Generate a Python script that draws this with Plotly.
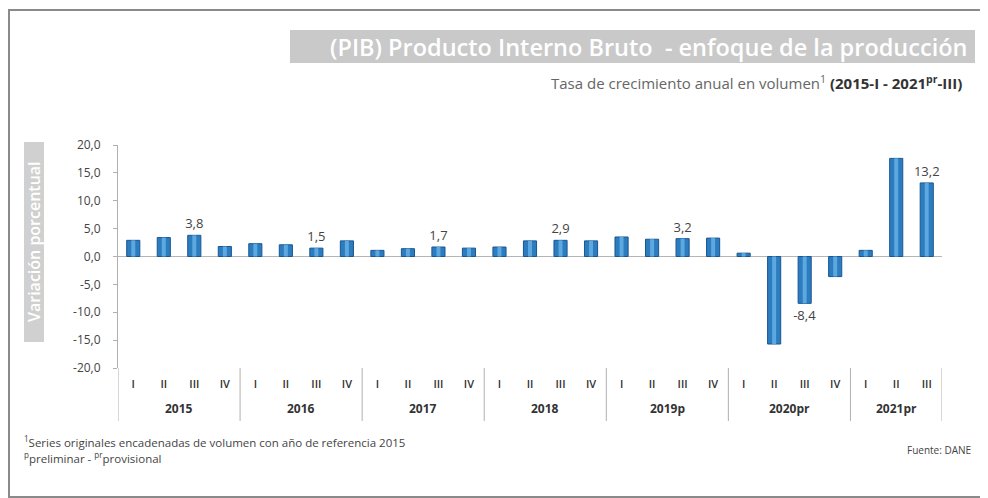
import plotly.graph_objects as go

# Tasa de crecimiento anual del PIB (%), 2015-I a 2021-III
years = ["2015"] * 4 + ["2016"] * 4 + ["2017"] * 4 + ["2018"] * 4 + \
        ["2019p"] * 4 + ["2020pr"] * 4 + ["2021pr"] * 3
quarters = ["I", "II", "III", "IV"] * 6 + ["I", "II", "III"]
growth = [2.9, 3.4, 3.8, 1.8,
          2.3, 2.1, 1.5, 2.8,
          1.1, 1.4, 1.7, 1.5,
          1.7, 2.8, 2.9, 2.8,
          3.5, 3.1, 3.2, 3.3,
          0.6, -15.7, -8.4, -3.6,
          1.1, 17.6, 13.2]
labeled = ["2015|III", "2016|III", "2017|III", "2018|III", "2019p|III", "2020pr|III", "2021pr|III"]
y_ticks = [20, 15, 10, 5, 0, -5, -10, -15, -20]

FONT = "Open Sans"
OFF = 8  # body margin of the page
W, H = 980, 490
L, R, T, B = 110, 46, 137, 130
pw, ph = W - L - R, H - T - B


def px(x):
    # screen pixel -> paper
    return (x - OFF - L) / pw


def py(y):
    return (H - B - (y - OFF)) / ph


def fmt(v):
    return f"{v:.1f}".replace(".", ",")


idx = list(range(len(growth)))
texts = []
for y, q, v in zip(years, quarters, growth):
    texts.append(fmt(v) if f"{y}|{q}" in labeled else "")

# year groups (name, start, end index)
groups = []
for i, y in enumerate(years):
    if groups and groups[-1][0] == y:
        groups[-1][2] = i
    else:
        groups.append([y, i, i])

fig = go.Figure()
fig.add_trace(go.Bar(
    x=idx, y=growth, width=0.43,
    marker=dict(color="#2c7cc0", line=dict(color="#1a5690", width=1)),
    text=texts, textposition="outside", cliponaxis=False, constraintext="none",
    textfont=dict(family=FONT, size=13, color="#444444"),
    showlegend=False, hoverinfo="y",
))
# lighter stripe to hint at the cylinder look
fig.add_trace(go.Bar(
    x=idx, y=growth, width=0.13,
    marker=dict(color="#5ea8e0", line=dict(width=0)),
    showlegend=False, hoverinfo="skip",
))

fig.update_layout(
    width=W, height=H,
    margin=dict(l=L, r=R, t=T, b=B),
    paper_bgcolor="white", plot_bgcolor="white",
    barmode="overlay",
    separators=",.",
    font=dict(family=FONT, color="#333333"),
    xaxis=dict(
        range=[-0.5, len(growth) - 0.5], tickvals=idx, ticktext=quarters,
        showgrid=False, zeroline=False, showline=False, ticks="",
        ticklabelstandoff=8,
        tickfont=dict(family=FONT, size=11, color="#333333", weight=600),
    ),
    yaxis=dict(
        range=[-20, 20], tickvals=y_ticks, ticktext=[fmt(v) for v in y_ticks],
        showgrid=False, zeroline=True, zerolinecolor="#b5b5b5", zerolinewidth=1,
        showline=True, linecolor="#b0b0b0", linewidth=1,
        ticks="outside", ticklen=4, tickcolor="#b0b0b0",
        ticklabelstandoff=10,
        tickfont=dict(family=FONT, size=12, color="#444444"),
    ),
)

shapes = [
    # outer frame
    dict(type="rect", xref="paper", yref="paper",
         x0=px(9), x1=px(985), y0=py(497), y1=py(10),
         line=dict(color="#8a8a8a", width=2), layer="below"),
    # title band
    dict(type="rect", xref="paper", yref="paper",
         x0=px(290), x1=px(975), y0=py(63), y1=py(30),
         fillcolor="#c9c9c9", line=dict(width=0), layer="below"),
    # y title band
    dict(type="rect", xref="paper", yref="paper",
         x0=px(24), x1=px(44), y0=py(342), y1=py(142),
         fillcolor="#d0d0d0", line=dict(width=0), layer="below"),
]
annotations = []

# year dividers and labels below the quarter labels
bounds = [g[1] - 0.5 for g in groups] + [groups[-1][2] + 0.5]
for b in bounds:
    shapes.append(dict(type="line", xref="x", yref="paper",
                       x0=b, x1=b, y0=0, y1=py(421),
                       line=dict(color="#b0b0b0", width=1)))
for name, s, e in groups:
    annotations.append(dict(text="<b>%s</b>" % name, x=(s + e) / 2, y=py(408),
                            xref="x", yref="paper", xanchor="center", yanchor="middle",
                            showarrow=False, font=dict(family=FONT, size=12, color="#333333")))

annotations += [
    dict(text="(PIB) Producto Interno Bruto  - enfoque de la producción",
         x=px(969), y=py(47), xref="paper", yref="paper",
         xanchor="right", yanchor="middle", showarrow=False,
         font=dict(family=FONT, size=23.5, color="white", weight=600)),
    dict(text="<span style='color:#666666;font-size:15px'>Tasa de crecimiento anual en volumen<sup>1</sup></span> "
              "<b>(2015-I - 2021<sup>pr</sup>-III)</b>",
         x=px(964), y=py(82), xref="paper", yref="paper",
         xanchor="right", yanchor="middle", showarrow=False,
         font=dict(family=FONT, size=15, color="#333333")),
    dict(text="Variación porcentual", textangle=-90,
         x=px(34), y=py(242), xref="paper", yref="paper",
         xanchor="center", yanchor="middle", showarrow=False,
         font=dict(family=FONT, size=16, color="white", weight=600)),
    dict(text="<sup>1</sup>Series originales encadenadas de volumen con año de referencia 2015",
         x=px(22), y=py(441), xref="paper", yref="paper",
         xanchor="left", yanchor="middle", showarrow=False,
         font=dict(family=FONT, size=11.5, color="#444444")),
    dict(text="<sup>p</sup>preliminar - <sup>pr</sup>provisional",
         x=px(22), y=py(457), xref="paper", yref="paper",
         xanchor="left", yanchor="middle", showarrow=False,
         font=dict(family=FONT, size=11.5, color="#444444")),
    dict(text="Fuente: DANE",
         x=px(973), y=py(450), xref="paper", yref="paper",
         xanchor="right", yanchor="middle", showarrow=False,
         font=dict(family=FONT, size=10, color="#444444")),
]

fig.update_layout(shapes=shapes, annotations=annotations)
fig.write_html("out.html")
